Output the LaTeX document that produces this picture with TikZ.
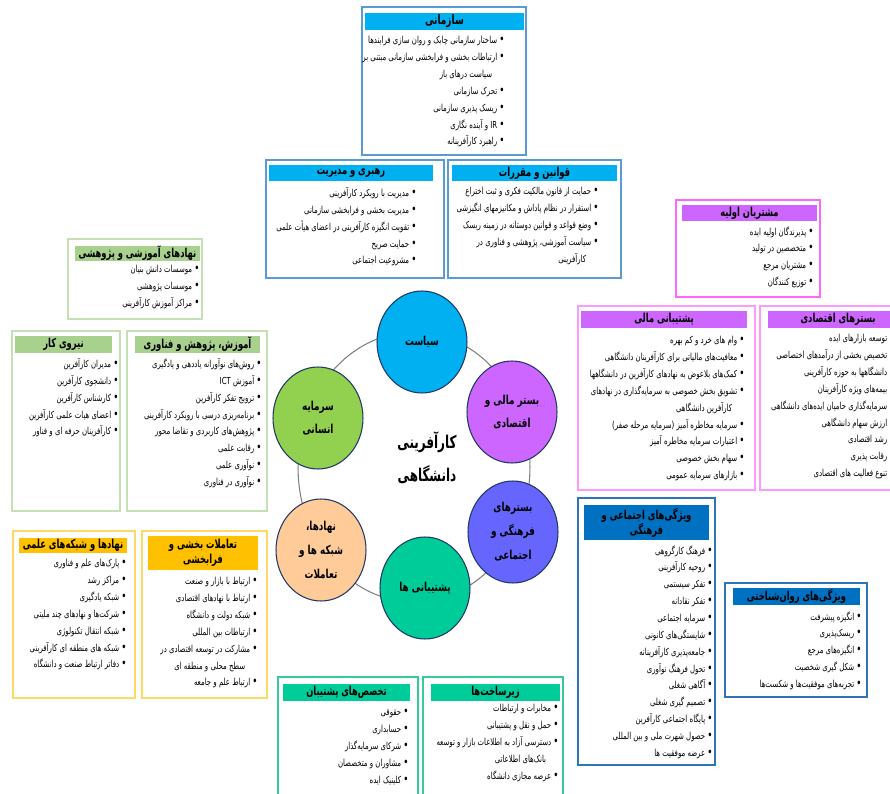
\documentclass[tikz,border=0pt]{standalone}
\usepackage{fontspec}
\setmainfont{DejaVu Sans}
\newfontfamily\fa[Script=Arabic, FakeStretch=0.72]{DejaVu Sans}
\newfontfamily\fah[Script=Arabic, FakeStretch=0.68]{DejaVu Sans}
\TeXXeTstate=1
\usetikzlibrary{fit,shapes.geometric}

\definecolor{skyhead}{HTML}{00B0F0}
\definecolor{skyframe}{HTML}{5B9BD5}
\definecolor{leafhead}{HTML}{A9D18E}
\definecolor{leafframe}{HTML}{C5E0B4}
\definecolor{lilachead}{HTML}{CC66FF}
\definecolor{lilacframe}{HTML}{FF66FF}
\definecolor{pinkframe}{HTML}{FF99FF}
\definecolor{goldhead}{HTML}{FFC000}
\definecolor{goldframe}{HTML}{FFD966}
\definecolor{navyhead}{HTML}{0070C0}
\definecolor{navyframe}{HTML}{2E75B6}
\definecolor{tealhead}{HTML}{00CC99}
\definecolor{tealframe}{HTML}{33CC99}
\definecolor{cpol}{HTML}{00B0F0}
\definecolor{cfin}{HTML}{CC66FF}
\definecolor{ccul}{HTML}{6666FF}
\definecolor{csup}{HTML}{00CC99}
\definecolor{cnet}{HTML}{FFCC99}
\definecolor{chum}{HTML}{92D050}
\definecolor{petalline}{HTML}{203864}

\newcommand{\rtl}[1]{\beginR#1\endR}
\newcommand{\fitem}[1]{\beginR{\fontsize{7}{0}\selectfont•}\ #1\endR}
\newcommand{\fcont}[1]{\beginR\hspace*{1.3em}#1\endR}

\tikzset{
	frame/.style={draw, line width=0.7pt, inner sep=0pt},
	head/.style={inner sep=0pt},
	title/.style={inner sep=0pt, align=center, font=\fah\bfseries\fontsize{7}{8.6}\selectfont},
	items/.style={inner sep=0pt, align=right, anchor=north east, font=\fa\fontsize{5.5}{9.6}\selectfont},
	petal/.style={ellipse, draw=petalline, line width=0.6pt, minimum width=1.8cm, minimum height=2.04cm, inner sep=0pt, align=center, font=\fa\bfseries\fontsize{7}{13.5}\selectfont},
	ring/.style={ellipse, draw=gray, line width=0.6pt, minimum width=4.64cm, minimum height=5.4cm}
}

\begin{document}
\begin{tikzpicture}[x=0.02cm, y=-0.02cm]
	\clip (0,0) rectangle (890,794);
	\fill[white] (0,0) rectangle (890,794);

	% wheel
	\node[ring] (ring) at (414,467) {};
	\node[petal, fill=cpol] (pol) at (422,342) {\rtl{سیاست}};
	\node[petal, fill=cfin] (fin) at (512,412) {\rtl{بستر مالی و}\\\rtl{اقتصادی}};
	\node[petal, fill=ccul] (cul) at (513,532) {\rtl{بسترهای}\\\rtl{فرهنگی و}\\\rtl{اجتماعی}};
	\node[petal, fill=csup] (sup) at (425,588) {\rtl{پشتیبانی ها}};
	\node[petal, fill=cnet] (net) at (321,550) {\rtl{نهادها،}\\\rtl{شبکه ها و}\\\rtl{تعاملات}};
	\node[petal, fill=chum] (hum) at (318,418) {\rtl{سرمایه}\\\rtl{انسانی}};
	\node[align=center, font=\fah\bfseries\fontsize{10}{19}\selectfont] (core) at (427,458) {\rtl{کارآفرینی}\\\rtl{دانشگاهی}};

	% policy
	\node[frame, draw=skyframe, fit={(362,7) (526,155)}] (orgbox) {};
	\node[head, fill=skyhead, fit={(365,13) (524,30)}] (orghead) {};
	\node[title, font=\fah\bfseries\fontsize{7.5}{9}\selectfont] (orgtitle) at (orghead.center) {\rtl{سازمانی}};
	\node[items] (orglist) at (505,36) {\fitem{ساختار سازمانی چابک و روان سازی فرایندها}\\
		\fitem{ارتباطات بخشی و فرابخشی سازمانی مبتنی بر}\\
		\fcont{سیاست درهای باز}\\
		\fitem{تحرک سازمانی}\\
		\fitem{ریسک پذیری سازمانی}\\
		\fitem{\beginL IR\endL{} و آینده نگاری}\\
		\fitem{راهبرد کارآفرینانه}};

	\node[frame, draw=skyframe, fit={(266,160) (444,278)}] (leadbox) {};
	\node[head, fill=skyhead, fit={(269,165) (433,181)}] (leadhead) {};
	\node[title] (leadtitle) at (leadhead.center) {\rtl{رهبری و مدیریت}};
	\node[items] (leadlist) at (417,187) {\fitem{مدیریت با رویکرد کارآفرینی}\\
		\fitem{مدیریت بخشی و فرابخشی سازمانی}\\
		\fitem{تقویت انگیزه کارآفرینی در اعضای هیأت علمی}\\
		\fitem{حمایت صریح}\\
		\fitem{مشروعیت اجتماعی}};

	\node[frame, draw=skyframe, fit={(448,160) (621,278)}] (lawbox) {};
	\node[head, fill=skyhead, fit={(452,165) (617,181)}] (lawhead) {};
	\node[title] (lawtitle) at (lawhead.center) {\rtl{قوانین و مقررات}};
	\node[items] (lawlist) at (599,187) {\fitem{حمایت از قانون مالکیت فکری و ثبت اختراع}\\
		\fitem{استقرار در نظام پاداش و مکانیزمهای انگیزشی}\\
		\fitem{وضع قواعد و قوانین دوستانه در زمینه ریسک}\\
		\fitem{سیاست آموزشی، پژوهشی و فناوری در}\\
		\fcont{کارآفرینی}};

	% human capital
	\node[frame, draw=leafframe, fit={(68,239) (202,319)}] (edubox) {};
	\node[head, fill=leafhead, fit={(75,246) (200,261)}] (eduhead) {};
	\node[title] (edutitle) at (eduhead.center) {\rtl{نهادهای آموزشی و پژوهشی}};
	\node[items] (edulist) at (200,265) {\fitem{موسسات دانش بنیان}\\
		\fitem{موسسات پژوهشی}\\
		\fitem{مراکز آموزش کارآفرینی}};

	\node[frame, draw=leafframe, fit={(12,331) (120,511)}] (workbox) {};
	\node[head, fill=leafhead, fit={(15,336) (112,353)}] (workhead) {};
	\node[title] (worktitle) at (workhead.center) {\rtl{نیروی کار}};
	\node[items] (worklist) at (119,358) {\fitem{مدیران کارآفرین}\\
		\fitem{دانشجوی کارآفرین}\\
		\fitem{کارشناس کارآفرین}\\
		\fitem{اعضای هیات علمی کارآفرین}\\
		\fitem{کارآفرینان حرفه ای و فناور}};

	\node[frame, draw=leafframe, fit={(127,331) (267,511)}] (techbox) {};
	\node[head, fill=leafhead, fit={(135,336) (260,353)}] (techhead) {};
	\node[title] (techtitle) at (techhead.center) {\rtl{آموزش، پژوهش و فناوری}};
	\node[items] (techlist) at (262,358) {\fitem{روش‌های نوآورانه یاددهی و یادگیری}\\
		\fitem{آموزش \beginL ICT\endL{}}\\
		\fitem{ترویج تفکر کارآفرین}\\
		\fitem{برنامه‌ریزی درسی با رویکرد کارآفرینی}\\
		\fitem{پژوهش‌های کاربردی و تقاضا محور}\\
		\fitem{رقابت علمی}\\
		\fitem{نوآوری علمی}\\
		\fitem{نوآوری در فناوری}};

	% finance and economy
	\node[frame, draw=lilacframe, fit={(676,200) (820,297)}] (custbox) {};
	\node[head, fill=lilachead, fit={(682,205) (817,221)}] (custhead) {};
	\node[title] (custtitle) at (custhead.center) {\rtl{مشتریان اولیه}};
	\node[items] (custlist) at (814,226) {\fitem{پذیرندگان اولیه ایده}\\
		\fitem{متخصصین در تولید}\\
		\fitem{مشتریان مرجع}\\
		\fitem{توزیع کنندگان}};

	\node[frame, draw=pinkframe, fit={(578,306) (755,490)}] (fundbox) {};
	\node[head, fill=lilachead, fit={(581,311) (747,328)}] (fundhead) {};
	\node[title] (fundtitle) at (fundhead.center) {\rtl{پشتیبانی مالی}};
	\node[items] (fundlist) at (745,336) {\fitem{وام های خرد و کم بهره}\\
		\fitem{معافیت‌های مالیاتی برای کارآفرینان دانشگاهی}\\
		\fitem{کمک‌های بلاعوض به نهادهای کارآفرین در دانشگاهها}\\
		\fitem{تشویق بخش خصوصی به سرمایه‌گذاری در نهادهای}\\
		\fcont{کارآفرین دانشگاهی}\\
		\fitem{سرمایه مخاطره آمیز (سرمایه مرحله صفر)}\\
		\fitem{اعتبارات سرمایه مخاطره آمیز}\\
		\fitem{سهام بخش خصوصی}\\
		\fitem{بازارهای سرمایه عمومی}};

	\node[frame, draw=pinkframe, fit={(760,306) (905,490)}] (econbox) {};
	\node[head, fill=lilachead, fit={(768,311) (908,328)}] (econhead) {};
	\node[title] (econtitle) at (838,319.5) {\rtl{بسترهای اقتصادی}};
	\node[items] (econlist) at (895,334) {\fitem{توسعه بازارهای ایده}\\
		\fitem{تخصیص بخشی از درآمدهای اختصاصی}\\
		\fitem{دانشگاهها به حوزه کارآفرینی}\\
		\fitem{بیمه‌های ویژه کارآفرینان}\\
		\fitem{سرمایه‌گذاری حامیان ایده‌های دانشگاهی}\\
		\fitem{ارزش سهام دانشگاهی}\\
		\fitem{رشد اقتصادی}\\
		\fitem{رقابت پذیری}\\
		\fitem{تنوع فعالیت های اقتصادی}};

	% culture
	\node[frame, draw=navyframe, fit={(578,498) (715,765)}] (socbox) {};
	\node[head, fill=navyhead, fit={(584,505) (709,540)}] (sochead) {};
	\node[title] (soctitle) at (sochead.center) {\rtl{ویژگی‌های اجتماعی و}\\\rtl{فرهنگی}};
	\node[items] (soclist) at (713,545) {\fitem{فرهنگ کارگروهی}\\
		\fitem{روحیه کارآفرینی}\\
		\fitem{تفکر سیستمی}\\
		\fitem{تفکر نقادانه}\\
		\fitem{سرمایه اجتماعی}\\
		\fitem{شایستگی‌های کانونی}\\
		\fitem{جامعه‌پذیری کارآفرینانه}\\
		\fitem{تحول فرهنگ نوآوری}\\
		\fitem{آگاهی شغلی}\\
		\fitem{تصمیم گیری شغلی}\\
		\fitem{پایگاه اجتماعی کارآفرین}\\
		\fitem{حصول شهرت ملی و بین المللی}\\
		\fitem{عرضه موفقیت ها}};

	\node[frame, draw=navyframe, fit={(725,583) (867,697)}] (psybox) {};
	\node[head, fill=navyhead, fit={(733,588) (860,605)}] (psyhead) {};
	\node[title] (psytitle) at (psyhead.center) {\rtl{ویژگی‌های روان‌شناختی}};
	\node[items] (psylist) at (862,611) {\fitem{انگیزه پیشرفت}\\
		\fitem{ریسک‌پذیری}\\
		\fitem{انگیزه‌های مرجع}\\
		\fitem{شکل گیری شخصیت}\\
		\fitem{تجربه‌های موفقیت‌ها و شکست‌ها}};

	% networks
	\node[frame, draw=goldframe, fit={(13,531) (135,698)}] (scibox) {};
	\node[head, fill=goldhead, fit={(19,538) (127,553)}] (scihead) {};
	\node[title] (scititle) at (scihead.center) {\rtl{نهادها و شبکه‌های علمی}};
	\node[items] (scilist) at (127,559) {\fitem{پارک‌های علم و فناوری}\\
		\fitem{مراکز رشد}\\
		\fitem{شبکه یادگیری}\\
		\fitem{شرکت‌ها و نهادهای چند ملیتی}\\
		\fitem{شبکه انتقال تکنولوژی}\\
		\fitem{شبکه های منطقه ای کارآفرینی}\\
		\fitem{دفاتر ارتباط صنعت و دانشگاه}};

	\node[frame, draw=goldframe, fit={(142,531) (267,698)}] (linkbox) {};
	\node[head, fill=goldhead, fit={(148,536) (258,570)}] (linkhead) {};
	\node[title] (linktitle) at (linkhead.center) {\rtl{تعاملات بخشی و}\\\rtl{فرابخشی}};
	\node[items] (linklist) at (258,577) {\fitem{ارتباط با بازار و صنعت}\\
		\fitem{ارتباط با نهادهای اقتصادی}\\
		\fitem{شبکه دولت و دانشگاه}\\
		\fitem{ارتباطات بین المللی}\\
		\fitem{مشارکت در توسعه اقتصادی در}\\
		\fcont{سطح محلی و منطقه ای}\\
		\fitem{ارتباط علم و جامعه}};

	% support
	\node[frame, draw=tealframe, fit={(278,677) (418,805)}] (probox) {};
	\node[head, fill=tealhead, fit={(283,684) (410,701)}] (prohead) {};
	\node[title] (protitle) at (prohead.center) {\rtl{تخصص‌های پشتیبان}};
	\node[items] (prolist) at (409,709) {\fitem{حقوقی}\\
		\fitem{حسابداری}\\
		\fitem{شرکای سرمایه‌گذار}\\
		\fitem{مشاوران و متخصصان}\\
		\fitem{کلینیک ایده}};

	\node[frame, draw=tealframe, fit={(423,677) (563,805)}] (infbox) {};
	\node[head, fill=tealhead, fit={(431,684) (560,701)}] (infhead) {};
	\node[title] (inftitle) at (infhead.center) {\rtl{زیرساخت‌ها}};
	\node[items] (inflist) at (559,704) {\fitem{مخابرات و ارتباطات}\\
		\fitem{حمل و نقل و پشتیبانی}\\
		\fitem{دسترسی آزاد به اطلاعات بازار و توسعه}\\
		\fcont{بانک‌های اطلاعاتی}\\
		\fitem{عرصه مجازی دانشگاه}};
\end{tikzpicture}
\end{document}
